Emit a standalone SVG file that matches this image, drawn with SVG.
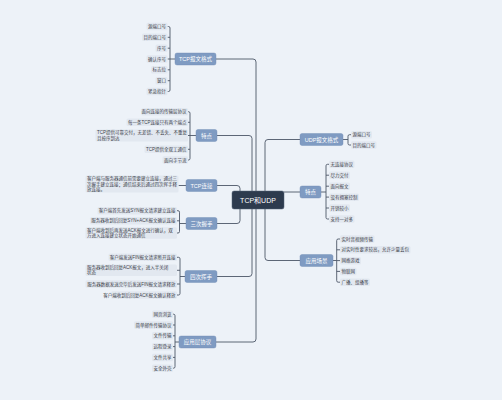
<svg xmlns="http://www.w3.org/2000/svg" width="502" height="400" viewBox="0 0 502 400">
<style>
text{font-family:"Liberation Sans","Noto Sans CJK SC",sans-serif;dominant-baseline:central}
.ln{fill:none;stroke:#4d5768;stroke-width:0.9}
.br{fill:#7f9bc2;stroke:#6f8bb3;stroke-width:0.4}
.bt{fill:#ffffff;font-size:5.5px;text-anchor:middle}
.cb{fill:#e2e8f0}
.ct{fill:#3b4049;font-size:4.5px}
.e{text-anchor:end}
</style>
<rect x="0" y="0" width="502" height="400" fill="#edf2f8"/>
<g id="connectors">
<path class="ln" d="M256,200 V62 Q256,59 253,59 H216"/>
<path class="ln" d="M256,200 V339 Q256,342 253,342 H216"/>
<path class="ln" d="M252,200 V138.5 Q252,135.5 249,135.5 H217"/>
<path class="ln" d="M252,200 V273.5 Q252,276.5 249,276.5 H217"/>
<path class="ln" d="M240,196 V188.5 Q240,185.5 237,185.5 H217"/>
<path class="ln" d="M240,204 V220.5 Q240,223.5 237,223.5 H217"/>
<path class="ln" d="M265,200 V142.5 Q265,139.5 268,139.5 H300"/>
<path class="ln" d="M265,200 V257.5 Q265,260.5 268,260.5 H300"/>
<path class="ln" d="M284,192 H300"/>
<path class="ln" d="M167.5,26.5 H168.5 Q170,26.5 170,28 V90 Q170,91.5 168.5,91.5 H167.5 M170,37.3 H167.5 M170,48.2 H167.5 M167.5,59 H175 M170,69.8 H167.5 M170,80.7 H167.5"/>
<path class="ln" d="M188,111.7 H188.5 Q190,111.7 190,113.2 V158.5 Q190,160 188.5,160 H188 M190,122.3 H188 M188,135.5 H196 M190,149.3 H188"/>
<path class="ln" d="M178.5,185.5 H186"/>
<path class="ln" d="M177,210.7 H178 Q179.5,210.7 179.5,212.2 V231.5 Q179.5,233 178,233 H177 M179.5,220.8 H177 M179.5,223.5 H186"/>
<path class="ln" d="M177,257.3 H178.5 Q180,257.3 180,258.8 V293.5 Q180,295 178.5,295 H177 M180,270.3 H177 M180,284 H177 M180,276.5 H185"/>
<path class="ln" d="M173,314.2 H173.5 Q175,314.2 175,315.7 V366.7 Q175,368.2 173.5,368.2 H173 M175,325 H173 M175,335.8 H173 M175,346.6 H173 M175,357.4 H173 M175,342 H179"/>
<path class="ln" d="M343,139.5 H348 M351,134.7 H349.5 Q348,134.7 348,136.2 V143.5 Q348,145 349.5,145 H351"/>
<path class="ln" d="M321,192 H326 M329,164.3 H327.5 Q326,164.3 326,165.8 V217.5 Q326,219 327.5,219 H329 M326,175.2 H329 M326,186.2 H329 M326,197.1 H329 M326,208 H329"/>
<path class="ln" d="M333,260.5 H336.7 M340,239 H338.2 Q336.7,239 336.7,240.5 V280.7 Q336.7,282.2 338.2,282.2 H340 M336.7,249.8 H340 M336.7,260.6 H340 M336.7,271.4 H340"/>
</g>
<g id="center">
<rect x="232" y="191" width="52" height="18" rx="2" fill="#2d3b4e" stroke="#56657a" stroke-width="0.5"/>
<text x="258" y="200" fill="#ffffff" font-size="7" text-anchor="middle">TCP和UDP</text>
</g>
<g id="tcp-format">
<rect class="br" x="175" y="53" width="41" height="12" rx="2"/>
<text class="bt" x="195.5" y="59">TCP报文格式</text>
<rect class="cb" x="146.5" y="22.8" width="21" height="7.5" rx="1.5"/><text class="ct e" x="166" y="26.5">源端口号</text>
<rect class="cb" x="142" y="33.6" width="25.5" height="7.5" rx="1.5"/><text class="ct e" x="166" y="37.3">目的端口号</text>
<rect class="cb" x="155.5" y="44.5" width="12" height="7.5" rx="1.5"/><text class="ct e" x="166" y="48.2">序号</text>
<rect class="cb" x="146.5" y="55.3" width="21" height="7.5" rx="1.5"/><text class="ct e" x="166" y="59">确认序号</text>
<rect class="cb" x="151" y="66.1" width="16.5" height="7.5" rx="1.5"/><text class="ct e" x="166" y="69.8">标志位</text>
<rect class="cb" x="155.5" y="77" width="12" height="7.5" rx="1.5"/><text class="ct e" x="166" y="80.7">窗口</text>
<rect class="cb" x="146.5" y="87.8" width="21" height="7.5" rx="1.5"/><text class="ct e" x="166" y="91.5">紧急指针</text>
</g>
<g id="tcp-features">
<rect class="br" x="196" y="129.5" width="21" height="12" rx="2"/>
<text class="bt" x="206.5" y="135.5">特点</text>
<rect class="cb" x="141.5" y="108" width="46.5" height="7.5" rx="1.5"/><text class="ct e" x="186.5" y="111.7">面向连接的传输层协议</text>
<rect class="cb" x="126.5" y="118.6" width="61.5" height="7.5" rx="1.5"/><text class="ct e" x="186.5" y="122.3">每一条TCP连接只有两个端点</text>
<rect class="cb" x="95.5" y="129.5" width="92.5" height="12" rx="1.5"/>
<text class="ct" x="97" y="132.8">TCP提供可靠交付，无差错、不丢失、不重复</text>
<text class="ct" x="97" y="138.2">且按序到达</text>
<rect class="cb" x="144.5" y="145.6" width="43.5" height="7.5" rx="1.5"/><text class="ct e" x="186.5" y="149.3">TCP提供全双工通信</text>
<rect class="cb" x="162.5" y="156.3" width="25.5" height="7.5" rx="1.5"/><text class="ct e" x="186.5" y="160">面向字节流</text>
</g>
<g id="tcp-connect">
<rect class="br" x="186" y="179.5" width="31" height="12" rx="2"/>
<text class="bt" x="201.5" y="185.5">TCP连接</text>
<rect class="cb" x="85.5" y="175.5" width="93" height="17" rx="1.5"/>
<text class="ct" x="87" y="178.8">客户端与服务器通信前需要建立连接，通过三</text>
<text class="ct" x="87" y="184">次握手建立连接；通信结束后通过四次挥手释</text>
<text class="ct" x="87" y="189.2">放连接。</text>
</g>
<g id="three-way">
<rect class="br" x="186" y="217.5" width="31" height="12" rx="2"/>
<text class="bt" x="201.5" y="223.5">三次握手</text>
<rect class="cb" x="97.5" y="207" width="79.5" height="7.5" rx="1.5"/><text class="ct e" x="175.5" y="210.7">客户端首先发送SYN报文请求建立连接</text>
<rect class="cb" x="90" y="217.1" width="87" height="7.5" rx="1.5"/><text class="ct e" x="175.5" y="220.8">服务器收到后回复SYN+ACK报文确认连接</text>
<rect class="cb" x="85.5" y="227.3" width="91.5" height="11.5" rx="1.5"/>
<text class="ct" x="87" y="230.4">客户端收到后再发送ACK报文进行确认，双</text>
<text class="ct" x="87" y="235.7">方进入连接建立状态开始通信</text>
</g>
<g id="four-way">
<rect class="br" x="185" y="270.5" width="32" height="12" rx="2"/>
<text class="bt" x="201" y="276.5">四次挥手</text>
<rect class="cb" x="108.5" y="253.6" width="68.5" height="7.5" rx="1.5"/><text class="ct e" x="175.5" y="257.3">客户端发送FIN报文请求断开连接</text>
<rect class="cb" x="85.5" y="264.5" width="91.5" height="11.5" rx="1.5"/>
<text class="ct" x="87" y="267.6">服务器收到后回复ACK报文，进入半关闭</text>
<text class="ct" x="87" y="272.9">状态</text>
<rect class="cb" x="85.5" y="280.3" width="91.5" height="7.5" rx="1.5"/><text class="ct e" x="175.5" y="284">服务器数据发送完毕后发送FIN报文请求释放</text>
<rect class="cb" x="111" y="291.3" width="66" height="7.5" rx="1.5"/><text class="ct e" x="175.5" y="295">客户端收到后回复ACK报文确认释放</text>
</g>
<g id="tcp-apps">
<rect class="br" x="179" y="336" width="37" height="12" rx="2"/>
<text class="bt" x="197.5" y="342">应用层协议</text>
<rect class="cb" x="152" y="310.5" width="21" height="7.5" rx="1.5"/><text class="ct e" x="171.5" y="314.2">网页浏览</text>
<rect class="cb" x="134" y="321.3" width="39" height="7.5" rx="1.5"/><text class="ct e" x="171.5" y="325">简单邮件传输协议</text>
<rect class="cb" x="152" y="332.1" width="21" height="7.5" rx="1.5"/><text class="ct e" x="171.5" y="335.8">文件传输</text>
<rect class="cb" x="152" y="342.9" width="21" height="7.5" rx="1.5"/><text class="ct e" x="171.5" y="346.6">远程登录</text>
<rect class="cb" x="152" y="353.7" width="21" height="7.5" rx="1.5"/><text class="ct e" x="171.5" y="357.4">文件共享</text>
<rect class="cb" x="152" y="364.5" width="21" height="7.5" rx="1.5"/><text class="ct e" x="171.5" y="368.2">安全外壳</text>
</g>
<g id="udp-format">
<rect class="br" x="300" y="133.5" width="43" height="12" rx="2"/>
<text class="bt" x="321.5" y="139.5">UDP报文格式</text>
<rect class="cb" x="351" y="131" width="21" height="7.5" rx="1.5"/><text class="ct" x="352.5" y="134.7">源端口号</text>
<rect class="cb" x="351" y="141.3" width="25.5" height="7.5" rx="1.5"/><text class="ct" x="352.5" y="145">目的端口号</text>
</g>
<g id="udp-features">
<rect class="br" x="300" y="186" width="21" height="12" rx="2"/>
<text class="bt" x="310.5" y="192">特点</text>
<rect class="cb" x="329" y="160.6" width="25.5" height="7.5" rx="1.5"/><text class="ct" x="330.5" y="164.3">无连接协议</text>
<rect class="cb" x="329" y="171.5" width="21" height="7.5" rx="1.5"/><text class="ct" x="330.5" y="175.2">尽力交付</text>
<rect class="cb" x="329" y="182.5" width="21" height="7.5" rx="1.5"/><text class="ct" x="330.5" y="186.2">面向报文</text>
<rect class="cb" x="329" y="193.4" width="30" height="7.5" rx="1.5"/><text class="ct" x="330.5" y="197.1">没有拥塞控制</text>
<rect class="cb" x="329" y="204.3" width="21" height="7.5" rx="1.5"/><text class="ct" x="330.5" y="208">开销较小</text>
<rect class="cb" x="329" y="215.3" width="25.5" height="7.5" rx="1.5"/><text class="ct" x="330.5" y="219">支持一对多</text>
</g>
<g id="udp-apps">
<rect class="br" x="300" y="254.5" width="33" height="12" rx="2"/>
<text class="bt" x="316.5" y="260.5">应用场景</text>
<rect class="cb" x="340" y="235.3" width="34.5" height="7.5" rx="1.5"/><text class="ct" x="341.5" y="239">实时音视频传输</text>
<rect class="cb" x="340" y="246.1" width="70.5" height="7.5" rx="1.5"/><text class="ct" x="341.5" y="249.8">对实时性要求较高，允许少量丢包</text>
<rect class="cb" x="340" y="256.9" width="21" height="7.5" rx="1.5"/><text class="ct" x="341.5" y="260.6">网络游戏</text>
<rect class="cb" x="340" y="267.7" width="16.5" height="7.5" rx="1.5"/><text class="ct" x="341.5" y="271.4">物联网</text>
<rect class="cb" x="340" y="278.5" width="30" height="7.5" rx="1.5"/><text class="ct" x="341.5" y="282.2">广播、组播等</text>
</g>
</svg>
